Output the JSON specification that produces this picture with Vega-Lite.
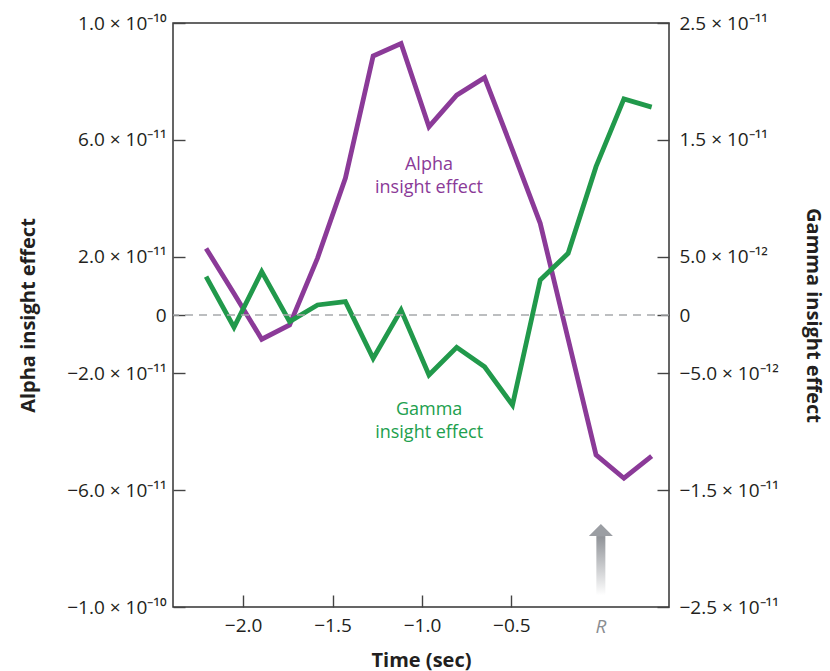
{
  "$schema": "https://vega.github.io/schema/vega-lite/v6.json",
  "width": 496,
  "height": 584,
  "autosize": {"type": "none"},
  "padding": {"left": 173, "top": 23, "right": 161, "bottom": 64},
  "background": "white",
  "config": {
    "view": {"stroke": "#333333", "strokeWidth": 1.5},
    "font": "Open Sans",
    "axis": {
      "domain": false,
      "grid": false,
      "tickSize": -12,
      "tickColor": "#444444",
      "tickWidth": 1.4,
      "labelFont": "Open Sans",
      "labelFontSize": 19,
      "labelColor": "#231f20",
      "titleFont": "Open Sans",
      "titleFontSize": 20,
      "titleFontWeight": "bold",
      "titleColor": "#231f20"
    }
  },
  "datasets": {
    "series": [
      {"t": -2.207, "alpha": 2.28e-11, "gamma": 3.28e-12},
      {"t": -2.051, "alpha": 7.4e-12, "gamma": -1.05e-12},
      {"t": -1.896, "alpha": -8.3e-12, "gamma": 3.71e-12},
      {"t": -1.740, "alpha": -3.4e-12, "gamma": -5.7e-13},
      {"t": -1.584, "alpha": 1.95e-11, "gamma": 8.6e-13},
      {"t": -1.428, "alpha": 4.69e-11, "gamma": 1.14e-12},
      {"t": -1.273, "alpha": 8.87e-11, "gamma": -3.71e-12},
      {"t": -1.117, "alpha": 9.30e-11, "gamma": 4.3e-13},
      {"t": -0.961, "alpha": 6.45e-11, "gamma": -5.14e-12},
      {"t": -0.806, "alpha": 7.53e-11, "gamma": -2.77e-12},
      {"t": -0.650, "alpha": 8.13e-11, "gamma": -4.43e-12},
      {"t": -0.494, "alpha": 5.65e-11, "gamma": -7.71e-12},
      {"t": -0.339, "alpha": 3.14e-11, "gamma": 3.0e-12},
      {"t": -0.183, "alpha": -8.2e-12, "gamma": 5.28e-12},
      {"t": -0.027, "alpha": -4.79e-11, "gamma": 1.27e-11},
      {"t": 0.129, "alpha": -5.59e-11, "gamma": 1.85e-11},
      {"t": 0.284, "alpha": -4.83e-11, "gamma": 1.78e-11}
    ],
    "notes": [
      {"t": -0.961, "y": 5.13e-11, "text": "Alpha\ninsight effect", "series": "alpha"},
      {"t": -0.96, "y": -3.25e-11, "text": "Gamma\ninsight effect", "series": "gamma"}
    ],
    "arrow": [
      {"t": 0, "top": -7.57e-11, "bottom": -9.6e-11, "head": -7.36e-11, "labelY": -1.068e-10, "label": "R"}
    ],
    "zero": [{"v": 0}]
  },
  "layer": [
    {
      "data": {"name": "series"},
      "mark": {"type": "line", "color": "#8b3a98", "strokeWidth": 4.8, "strokeJoin": "miter"},
      "encoding": {
        "x": {
          "field": "t",
          "type": "quantitative",
          "scale": {"domain": [-2.364, 0.353], "nice": false, "zero": false},
          "axis": {
            "title": "Time (sec)",
            "values": [-2, -1.5, -1, -0.5],
            "labelPadding": 21,
            "titleX": 248,
            "titleY": 53,
            "titleAlign": "center",
            "titleBaseline": "middle"
          }
        },
        "y": {
          "field": "alpha",
          "type": "quantitative",
          "scale": {"domain": [-1e-10, 1e-10], "nice": false, "zero": false},
          "axis": {
            "orient": "left",
            "title": "Alpha insight effect",
            "values": [-1e-10, -6e-11, -2e-11, 0, 2e-11, 6e-11, 1e-10],
            "labelExpr": "datum.value > 9e-11 ? '1.0 × 10⁻¹⁰' : datum.value > 5e-11 ? '6.0 × 10⁻¹¹' : datum.value > 1e-11 ? '2.0 × 10⁻¹¹' : datum.value > -1e-11 ? '0' : datum.value > -5e-11 ? '−2.0 × 10⁻¹¹' : datum.value > -9e-11 ? '−6.0 × 10⁻¹¹' : '−1.0 × 10⁻¹⁰'",
            "labelPadding": 19,
            "titleX": -145,
            "titleY": 292,
            "titleAngle": -90,
            "titleAlign": "center",
            "titleBaseline": "middle"
          }
        }
      }
    },
    {
      "data": {"name": "series"},
      "mark": {"type": "line", "color": "#21994b", "strokeWidth": 4.8, "strokeJoin": "miter"},
      "encoding": {
        "x": {"field": "t", "type": "quantitative"},
        "y": {
          "field": "gamma",
          "type": "quantitative",
          "scale": {"domain": [-2.5e-11, 2.5e-11], "nice": false, "zero": false},
          "axis": {
            "orient": "right",
            "title": "Gamma insight effect",
            "values": [-2.5e-11, -1.5e-11, -5e-12, 0, 5e-12, 1.5e-11, 2.5e-11],
            "labelExpr": "datum.value > 2e-11 ? '2.5 × 10⁻¹¹' : datum.value > 1e-11 ? '1.5 × 10⁻¹¹' : datum.value > 1e-12 ? '5.0 × 10⁻¹²' : datum.value > -1e-12 ? '0' : datum.value > -1e-11 ? '−5.0 × 10⁻¹²' : datum.value > -2e-11 ? '−1.5 × 10⁻¹¹' : '−2.5 × 10⁻¹¹'",
            "labelPadding": 22,
            "titleX": 143,
            "titleY": 292,
            "titleAngle": 90,
            "titleAlign": "center",
            "titleBaseline": "middle"
          }
        }
      }
    },
    {
      "data": {"name": "zero"},
      "mark": {"type": "rule", "strokeDash": [8, 6], "color": "#a7a9ac", "strokeWidth": 1.3},
      "encoding": {
        "y": {"field": "v", "type": "quantitative", "scale": {"domain": [-1e-10, 1e-10], "nice": false, "zero": false}, "axis": null}
      }
    },
    {
      "data": {"name": "notes"},
      "mark": {"type": "text", "lineBreak": "\n", "fontSize": 18, "align": "center", "baseline": "middle", "lineHeight": 23, "font": "Open Sans"},
      "encoding": {
        "x": {"field": "t", "type": "quantitative"},
        "y": {"field": "y", "type": "quantitative", "scale": {"domain": [-1e-10, 1e-10], "nice": false, "zero": false}, "axis": null},
        "text": {"field": "text"},
        "color": {"field": "series", "type": "nominal", "scale": {"domain": ["alpha", "gamma"], "range": ["#8b3a98", "#21a04e"]}, "legend": null}
      }
    },
    {
      "data": {"name": "arrow"},
      "mark": {
        "type": "bar",
        "size": 9,
        "fill": {"gradient": "linear", "x1": 0, "y1": 0, "x2": 0, "y2": 1, "stops": [{"offset": 0, "color": "#8f9297"}, {"offset": 1, "color": "#ffffff"}]},
        "stroke": null
      },
      "encoding": {
        "x": {"field": "t", "type": "quantitative"},
        "y": {"field": "top", "type": "quantitative", "scale": {"domain": [-1e-10, 1e-10], "nice": false, "zero": false}, "axis": null},
        "y2": {"field": "bottom"}
      }
    },
    {
      "data": {"name": "arrow"},
      "mark": {"type": "point", "shape": "M-1,0.5L0,-0.5L1,0.5Z", "filled": true, "size": 576, "color": "#9b9ea3", "opacity": 1},
      "encoding": {
        "x": {"field": "t", "type": "quantitative"},
        "y": {"field": "head", "type": "quantitative", "scale": {"domain": [-1e-10, 1e-10], "nice": false, "zero": false}, "axis": null}
      }
    },
    {
      "data": {"name": "arrow"},
      "mark": {"type": "text", "fontSize": 19, "fontStyle": "italic", "color": "#8a8d91", "align": "center", "baseline": "middle", "font": "Open Sans"},
      "encoding": {
        "x": {"field": "t", "type": "quantitative"},
        "y": {"field": "labelY", "type": "quantitative", "scale": {"domain": [-1e-10, 1e-10], "nice": false, "zero": false}, "axis": null},
        "text": {"field": "label"}
      }
    }
  ],
  "resolve": {"scale": {"y": "independent"}}
}
